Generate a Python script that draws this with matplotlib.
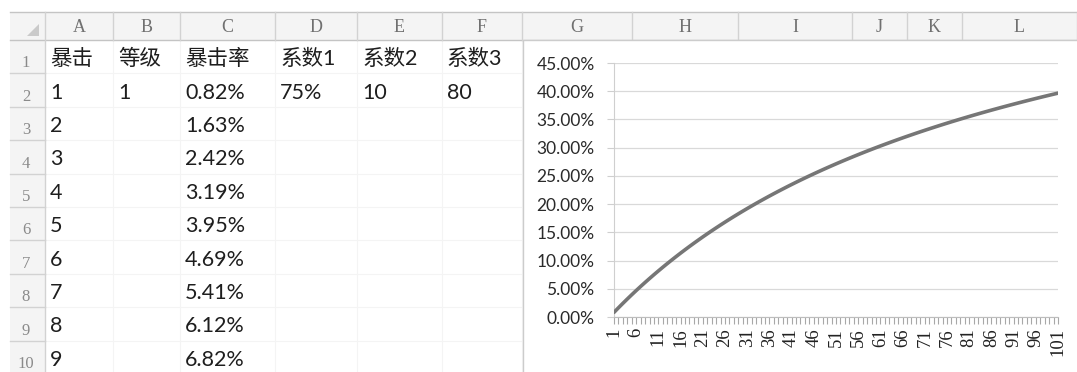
import matplotlib
matplotlib.use("Agg")
import matplotlib.pyplot as plt
from matplotlib.patches import Rectangle, Polygon
from matplotlib.ticker import FuncFormatter, FixedLocator

# ---- sheet contents -------------------------------------------------------
col_letters = ["A", "B", "C", "D", "E", "F", "G", "H", "I", "J", "K", "L"]
header_row = ["暴击", "等级", "暴击率", "系数1", "系数2", "系数3"]
crit_points = [1, 2, 3, 4, 5, 6, 7, 8, 9]
level = [1]
coef1 = ["75%"]
coef2 = [10]
coef3 = [80]

# crit rate (%) for crit points 1..101, plotted as a line
crit_x = list(range(1, 102))
crit_rate = [
    0.824, 1.630, 2.419, 3.191, 3.947, 4.688, 5.412, 6.122, 6.818, 7.500,
    8.168, 8.824, 9.466, 10.096, 10.714, 11.321, 11.916, 12.500, 13.073, 13.636,
    14.189, 14.732, 15.265, 15.789, 16.304, 16.810, 17.308, 17.797, 18.277, 18.750,
    19.215, 19.672, 20.122, 20.565, 21.000, 21.429, 21.850, 22.266, 22.674, 23.077,
    23.473, 23.864, 24.248, 24.627, 25.000, 25.368, 25.730, 26.087, 26.439, 26.786,
    27.128, 27.465, 27.797, 28.125, 28.448, 28.767, 29.082, 29.392, 29.698, 30.000,
    30.298, 30.592, 30.882, 31.169, 31.452, 31.731, 32.006, 32.278, 32.547, 32.813,
    33.075, 33.333, 33.589, 33.841, 34.091, 34.337, 34.581, 34.821, 35.059, 35.294,
    35.526, 35.756, 35.983, 36.207, 36.429, 36.648, 36.864, 37.079, 37.291, 37.500,
    37.707, 37.912, 38.115, 38.315, 38.514, 38.710, 38.904, 39.096, 39.286, 39.474,
    39.660,
]

# ---- layout (pixels) ------------------------------------------------------
W, H = 1077, 372
col_edges = [45, 113, 180, 275, 357, 442, 522, 632, 738, 852, 907, 962, 1077]
rownum_left = 10
head_top, head_bot = 12, 40
row_h = 33.4
n_rows = 10

fig = plt.figure(figsize=(W / 100, H / 100), dpi=100)
fig.patch.set_facecolor("white")
bg = fig.add_axes([0, 0, 1, 1])
bg.set_xlim(0, W)
bg.set_ylim(H, 0)
bg.axis("off")

head_fill = "#f4f4f4"
head_line = "#d2d2d2"
cell_line = "#f4f4f4"
text_col = "#1e1e1e"
head_text = "#707070"

# header row and row-number column
bg.add_patch(Rectangle((rownum_left, head_top), W - rownum_left, head_bot - head_top,
                       facecolor=head_fill, edgecolor="none", zorder=1))
bg.add_patch(Rectangle((rownum_left, head_bot), col_edges[0] - rownum_left, H - head_bot,
                       facecolor=head_fill, edgecolor="none", zorder=1))
bg.plot([rownum_left, W], [head_top, head_top], color="#c4c4c4", lw=1, zorder=2)
bg.plot([rownum_left, W], [head_bot, head_bot], color="#c4c4c4", lw=1, zorder=2)
bg.plot([col_edges[0], col_edges[0]], [head_top, H], color=head_line, lw=1, zorder=2)
bg.add_patch(Polygon([[39, 24], [39, 36], [27, 36]], closed=True,
                     facecolor="#cacaca", edgecolor="none", zorder=3))

# column separators and letters
for i, letter in enumerate(col_letters):
    x0, x1 = col_edges[i], col_edges[i + 1]
    bg.plot([x1, x1], [head_top, head_bot], color=head_line, lw=1, zorder=2)
    bg.plot([x1, x1], [head_bot, H], color=cell_line, lw=0.8, zorder=1.5)
    bg.text((x0 + x1) / 2, 28, letter, ha="center", va="center",
            fontsize=13, family="Liberation Serif", color=head_text, zorder=3)

# row separators and numbers
for r in range(n_rows):
    y0 = head_bot + r * row_h
    y1 = y0 + row_h
    bg.plot([rownum_left, col_edges[0]], [y1, y1], color=head_line, lw=1, zorder=2)
    bg.plot([col_edges[0], W], [y1, y1], color=cell_line, lw=0.8, zorder=1.5)
    bg.text(26, y1 - 2, str(r + 1), ha="center", va="bottom",
            fontsize=12, family="Liberation Serif", color="#8a8a8a", zorder=3)

cell_font = ["Lato", "Noto Sans CJK SC"]


def cell(col, row, txt):
    y = head_bot + (row - 1) * row_h + row_h / 2 + 2.5
    bg.text(col_edges[col] + 5, y, txt, ha="left", va="center", fontsize=15.5,
            family=cell_font, color=text_col, zorder=3)


for j, h in enumerate(header_row):
    cell(j, 1, h)
for k, p in enumerate(crit_points):
    cell(0, k + 2, str(p))
    cell(2, k + 2, f"{crit_rate[k]:.2f}%")
cell(1, 2, str(level[0]))
cell(3, 2, coef1[0])
cell(4, 2, str(coef2[0]))
cell(5, 2, str(coef3[0]))

# chart area covering columns G..L
bg.add_patch(Rectangle((523, head_bot), W - 523 + 5, H - head_bot + 5,
                       facecolor="white", edgecolor="#cccccc", lw=1, zorder=4))

# ---- line chart -----------------------------------------------------------
px_left, px_right = 614, 1058
px_top, px_bot = 63, 317
ax = fig.add_axes([px_left / W, (H - px_bot) / H,
                   (px_right - px_left) / W, (px_bot - px_top) / H])
ax.set_zorder(5)
ax.patch.set_alpha(0)

ax.plot(crit_x, [v / 100 for v in crit_rate], color="#767676", lw=2.6,
        solid_capstyle="round", zorder=3)

ax.set_xlim(crit_x[0], crit_x[-1])
ax.set_ylim(0, 0.45)
ax.set_yticks([i * 0.05 for i in range(10)])
ax.yaxis.set_major_formatter(FuncFormatter(lambda v, _: f"{v * 100:.2f}%"))
ax.grid(axis="y", color="#d9d9d9", lw=0.9)
ax.set_axisbelow(True)

ax.xaxis.set_major_locator(FixedLocator(crit_x[::5]))
ax.xaxis.set_minor_locator(FixedLocator(crit_x))
ax.xaxis.set_major_formatter(FuncFormatter(lambda v, _: f"{int(round(v))}"))

for side in ("top", "right"):
    ax.spines[side].set_visible(False)
ax.spines["left"].set_color("#cfcfcf")
ax.spines["bottom"].set_color("#bdbdbd")

ax.tick_params(axis="y", length=5, width=0.8, color="#cfcfcf", pad=9,
               labelsize=12.5, labelcolor="#2a2a2a")
ax.tick_params(axis="x", which="both", length=5, width=0.8, color="#a8a8a8",
               pad=3, labelsize=13.5, labelcolor="#222222", labelrotation=90)
for lab in ax.get_yticklabels():
    lab.set_family("Lato")
for lab in ax.get_xticklabels():
    lab.set_family("Liberation Serif")

fig.savefig("out.png", dpi=100, facecolor="white")
